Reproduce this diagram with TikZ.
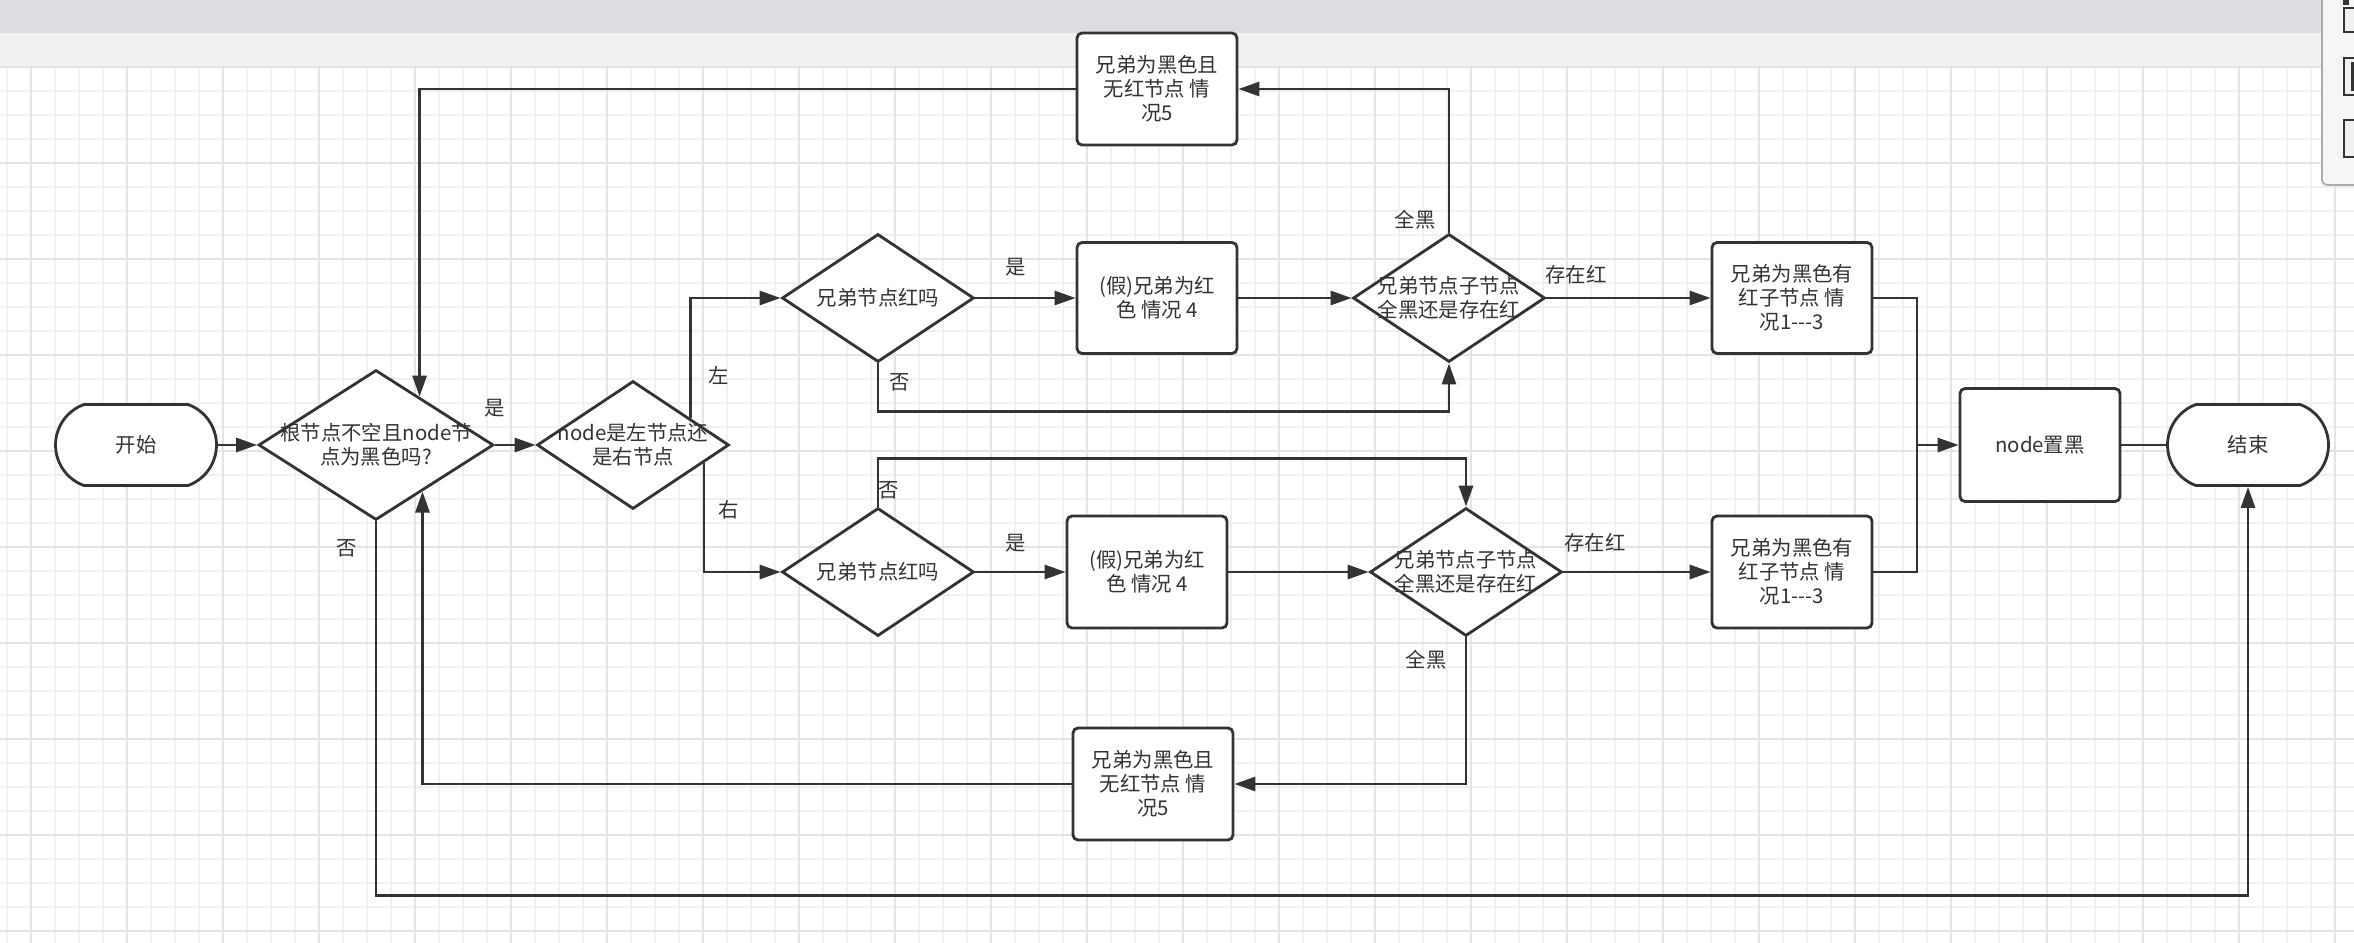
\documentclass[tikz,border=0pt]{standalone}
\usepackage{fontspec}
\setmainfont{Noto Sans CJK SC}
\usepackage{xcolor}
\definecolor{ink}{HTML}{333333}
\definecolor{topbar}{HTML}{DCDDE1}
\definecolor{band}{HTML}{F1F1F1}
\definecolor{gmin}{HTML}{F0F0F0}
\definecolor{gmaj}{HTML}{E4E4E4}
\definecolor{panel}{HTML}{F6F6F6}
\definecolor{panrule}{HTML}{ABABAB}
\usetikzlibrary{positioning,arrows.meta,shapes.geometric,shapes.misc}
\newcommand{\txtfont}{\fontsize{11.6pt}{13.6pt}\selectfont}
\tikzset{
  >={Triangle[length=0.42cm,width=0.28cm]},
  box/.style={draw=ink,fill=white,rounded corners=0.1cm,line width=1.6pt,align=center,
    font=\txtfont,text=ink,inner sep=0pt,minimum width=3.2cm,minimum height=2.24cm},
  ask/.style={diamond,draw=ink,fill=white,line width=1.6pt,align=center,
    font=\txtfont,text=ink,inner sep=-0.8cm,minimum width=3.84cm,minimum height=2.56cm},
  termi/.style={rounded rectangle,rounded rectangle arc length=140,draw=ink,fill=white,
    line width=1.6pt,font=\txtfont,text=ink,inner sep=0pt,minimum width=3.22cm,minimum height=1.62cm},
  flow/.style={->,draw=ink,line width=1.6pt},
  wire/.style={draw=ink,line width=1.6pt},
  lbl/.style={font=\txtfont,text=ink,inner sep=0pt},
  gline/.style={draw=gmin,line width=0.8pt},
  gbold/.style={draw=gmaj,line width=1.1pt},
}

\begin{document}
\begin{tikzpicture}[x=0.02cm,y=-0.02cm]
  \useasboundingbox (0,0) rectangle (2354,943);
  \clip (0,0) rectangle (2354,943);
  \fill[topbar] (0,0) rectangle (2354,33);
  \fill[band] (0,33) rectangle (2354,67);
  \fill[white] (0,67) rectangle (2354,943);
  \foreach \gx in {7,31,...,2354} \draw[gline] (\gx,67) -- (\gx,943);
  \foreach \gy in {67,91,...,943} \draw[gline] (0,\gy) -- (2354,\gy);
  \foreach \gx in {31,127,...,2354} \draw[gbold] (\gx,67) -- (\gx,943);
  \foreach \gy in {67,163,...,943} \draw[gbold] (0,\gy) -- (2354,\gy);
  \draw[panrule,fill=panel,rounded corners=0.1cm,line width=1pt] (2322,-10) rectangle (2380,185);
  \foreach \ia/\ib in {8/32,58/95,120/157}
    \draw[ink,fill=band,line width=1.4pt] (2344,\ia) rectangle (2370,\ib);
  \fill[ink] (2343,0) rectangle (2349,5);
  \fill[ink] (2351,62) rectangle (2356,91);

  \node[termi] (st) at (136,445) {开始};
  \node[ask,minimum width=4.7cm,minimum height=3cm] (q1) at (376,445) {根节点不空且node节\\点为黑色吗?};
  \node[ask] (q2) at (633,445) {node是左节点还\\是右节点};
  \node[ask] (q3) at (878,298) {兄弟节点红吗};
  \node[box,minimum height=2.22cm] (p4a) at (1157,298) {(假)兄弟为红\\色 情况 4};
  \node[ask] (q4) at (1449,298) {兄弟节点子节点\\全黑还是存在红};
  \node[box,minimum height=2.22cm] (p13a) at (1792,298) {兄弟为黑色有\\红子节点 情\\况1{-}{-}{-}3};
  \node[box] (p5a) at (1157,89) {兄弟为黑色且\\无红节点 情\\况5};
  \node[ask] (q5) at (878,572) {兄弟节点红吗};
  \node[box] (p4b) at (1147,572) {(假)兄弟为红\\色 情况 4};
  \node[ask] (q6) at (1466,572) {兄弟节点子节点\\全黑还是存在红};
  \node[box] (p13b) at (1792,572) {兄弟为黑色有\\红子节点 情\\况1{-}{-}{-}3};
  \node[box] (p5b) at (1153,784) {兄弟为黑色且\\无红节点 情\\况5};
  \node[box,minimum height=2.26cm] (blk) at (2040,445) {node置黑};
  \node[termi] (ed) at (2248,445) {结束};
  \coordinate (jn) at (1917,445);

  \draw[flow] (st.east) -- (q1.west);
  \draw[flow] (q1.east) -- (q2.west);
  \draw[flow] (q2.25) |- (q3.west);
  \draw[flow] (q2.-14) |- (q5.west);
  \draw[flow] (q3.east) -- (p4a.west);
  \draw[flow] (p4a.east) -- (q4.west);
  \draw[flow] (q3.south) -- ++(0,48) -| (q4.south);
  \draw[flow] (q4.north) |- (p5a.east);
  \draw[flow] (p5a.west) -| (q1.48);
  \draw[flow] (q4.east) -- (p13a.west);
  \draw[flow] (p13a.east) -| (jn) -- (blk.west);
  \draw[wire] (p13b.east) -| (jn);
  \draw[wire] (blk.east) -- (ed.west);
  \draw[flow] (q5.north) -- ++(0,-48) -| (q6.north);
  \draw[flow] (q5.east) -- (p4b.west);
  \draw[flow] (p4b.east) -- (q6.west);
  \draw[flow] (q6.east) -- (p13b.west);
  \draw[flow] (q6.south) |- (p5b.east);
  \draw[flow] (p5b.west) -| (q1.-45);
  \draw[flow] (q1.south) -- ++(0,374) -| (ed.south);

  \node[lbl] (y1) at (495,408) {是};
  \node[lbl] (lf) at (719,375) {左};
  \node[lbl] (rt) at (729,510) {右};
  \node[lbl] (y2) at (1016,267) {是};
  \node[lbl] (n2) at (900,382) {否};
  \node[lbl] (b2) at (1415,220) {全黑};
  \node[lbl] (r2) at (1576,275) {存在红};
  \node[lbl] (n3) at (889,490) {否};
  \node[lbl] (y3) at (1016,543) {是};
  \node[lbl] (r3) at (1595,543) {存在红};
  \node[lbl] (b3) at (1426,660) {全黑};
  \node[lbl] (n1) at (347,548) {否};
\end{tikzpicture}
\end{document}
